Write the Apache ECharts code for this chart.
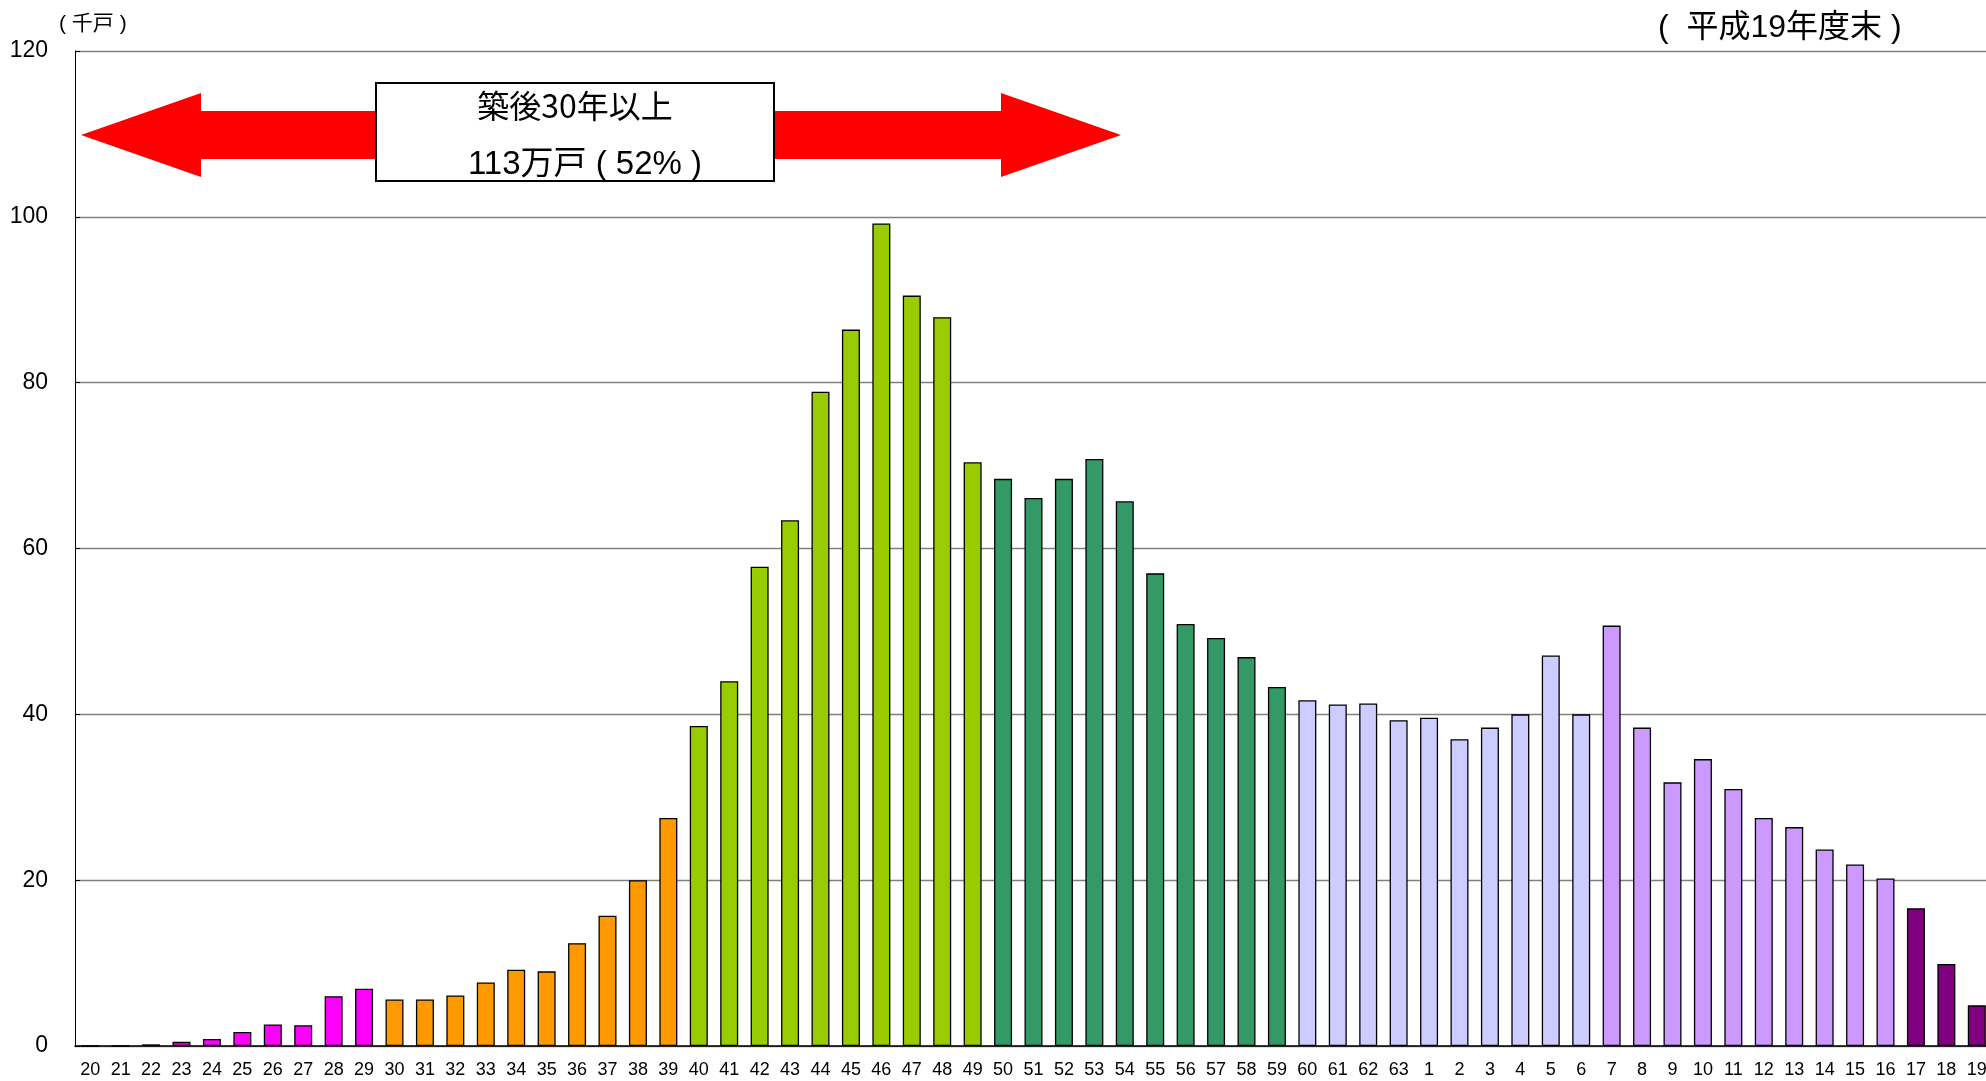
<!DOCTYPE html>
<html>
<head>
<meta charset="utf-8">
<script src="https://cdn.jsdelivr.net/npm/echarts@6/dist/echarts.min.js"></script>
<style>
  html, body { margin: 0; padding: 0; background: #fff; }
  #main { width: 1986px; height: 1081px; }
</style>
</head>
<body>
<div id="main"></div>
<script>
// 建築年度（昭和20〜63年、平成1〜19年）
var years = ['20', '21', '22', '23', '24', '25', '26', '27', '28', '29',
    '30', '31', '32', '33', '34', '35', '36', '37', '38', '39',
    '40', '41', '42', '43', '44', '45', '46', '47', '48', '49',
    '50', '51', '52', '53', '54', '55', '56', '57', '58', '59',
    '60', '61', '62', '63', '1', '2', '3', '4', '5', '6',
    '7', '8', '9', '10', '11', '12', '13', '14', '15', '16',
    '17', '18', '19'];

// 戸数（千戸）
var houses = [0, 0, 0.2, 0.5, 0.85, 1.7, 2.6, 2.5, 6.0, 6.9,
    5.6, 5.6, 6.1, 7.65, 9.2, 9.0, 12.4, 15.7, 20.0, 27.5,
    38.6, 44.0, 57.8, 63.4, 78.9, 86.4, 99.2, 90.5, 87.9, 70.4,
    68.4, 66.1, 68.4, 70.8, 65.7, 57.0, 50.9, 49.2, 46.9, 43.3,
    41.7, 41.2, 41.3, 39.3, 39.6, 37.0, 38.4, 40.0, 47.1, 40.0,
    50.7, 38.4, 31.8, 34.6, 31.0, 27.5, 26.4, 23.7, 21.9, 20.2,
    16.6, 9.9, 4.9];

// 年代ごとの色（先頭からの本数）
var groupCounts = [10, 10, 10, 10, 10, 10, 3];
var groupColors = ['#FF00FF', '#FF9900', '#99CC00', '#339966', '#CCCCFF', '#CC99FF', '#800080'];

var yTicks = [0, 20, 40, 60, 80, 100, 120];

var barData = [];
var g = 0, left = groupCounts[0];
for (var i = 0; i < houses.length; i++) {
    if (left === 0) { g++; left = groupCounts[g]; }
    left--;
    barData.push({ value: houses[i], itemStyle: { color: groupColors[g] } });
}

var font = "'Liberation Sans', 'Noto Sans CJK JP', sans-serif";

var myChart = echarts.init(document.getElementById('main'));

var option = {
    backgroundColor: '#ffffff',
    animation: false,
    textStyle: { fontFamily: font },
    grid: {
        left: 75,
        top: 51,
        width: 1917,
        height: 995,
        outerBoundsMode: 'none'
    },
    xAxis: {
        type: 'category',
        data: years,
        axisLine: { lineStyle: { color: '#000', width: 1.5 } },
        axisTick: { inside: true, length: 6, lineStyle: { color: '#333' } },
        axisLabel: { interval: 0, color: '#000', fontSize: 18, margin: 15 },
        splitLine: { show: false }
    },
    yAxis: {
        type: 'value',
        min: yTicks[0],
        max: yTicks[yTicks.length - 1],
        interval: 20,
        axisLine: { show: true, lineStyle: { color: '#000', width: 1 } },
        axisTick: { show: true, inside: true, length: 5, lineStyle: { color: '#000' } },
        axisLabel: { color: '#000', fontSize: 23, margin: 27 },
        splitLine: { lineStyle: { color: '#808080', width: 1.3 } }
    },
    series: [{
        name: '戸数',
        type: 'bar',
        data: barData,
        barWidth: 18,
        itemStyle: { borderColor: '#000', borderWidth: 1.3 }
    }],
    graphic: [
        {
            type: 'text',
            x: 59, y: 24,
            style: {
                text: '( 千戸 )', fontSize: 21, fontFamily: font, fill: '#000',
                textAlign: 'left', textVerticalAlign: 'middle'
            }
        },
        {
            type: 'text',
            x: 1658, y: 28,
            style: {
                text: '(  平成19年度末 )', fontSize: 32, fontFamily: font, fill: '#000',
                textAlign: 'left', textVerticalAlign: 'middle'
            }
        },
        {
            type: 'polygon',
            shape: {
                points: [[81, 135], [201, 93], [201, 111], [1001, 111], [1001, 93], [1121, 135],
                    [1001, 177], [1001, 159], [201, 159], [201, 177]]
            },
            style: { fill: '#FF0000' }
        },
        {
            type: 'rect',
            shape: { x: 376, y: 83, width: 398, height: 98 },
            style: { fill: '#fff', stroke: '#000', lineWidth: 2 }
        },
        {
            type: 'text',
            x: 575, y: 106,
            style: {
                text: '築後30年以上', fontSize: 32, fontFamily: 'Noto Sans CJK JP', fill: '#000',
                textAlign: 'center', textVerticalAlign: 'middle'
            }
        },
        {
            type: 'text',
            x: 585, y: 165,
            style: {
                text: '113万戸 ( 52% )', fontSize: 33, fontFamily: font, fill: '#000',
                textAlign: 'center', textVerticalAlign: 'middle'
            }
        }
    ]
};
myChart.setOption(option);
</script>
</body>
</html>
